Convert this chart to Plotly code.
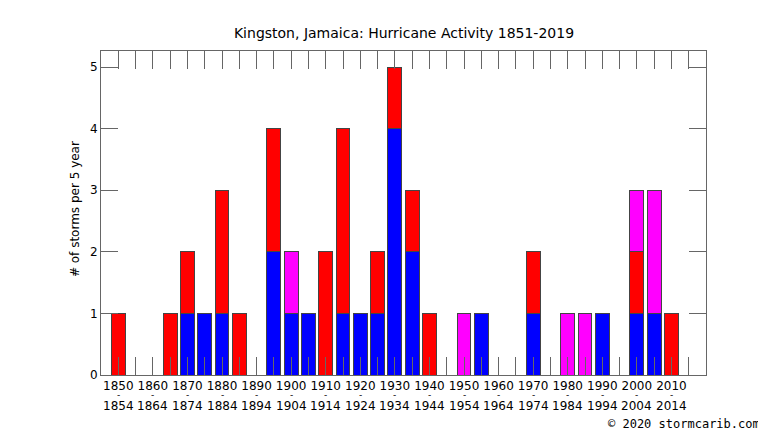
import plotly.graph_objects as go

# start year of each 5-year bin
years = [1850, 1855, 1860, 1865, 1870, 1875, 1880, 1885, 1890, 1895,
         1900, 1905, 1910, 1915, 1920, 1925, 1930, 1935, 1940, 1945,
         1950, 1955, 1960, 1965, 1970, 1975, 1980, 1985, 1990, 1995,
         2000, 2005, 2010, 2015]

# storm counts per bin, stacked blue -> red -> magenta
blue = [0, 0, 0, 0, 1, 1, 1, 0, 0, 2,
        1, 1, 0, 1, 1, 1, 4, 2, 0, 0,
        0, 1, 0, 0, 1, 0, 0, 0, 1, 0,
        1, 1, 0, 0]
red = [1, 0, 0, 1, 1, 0, 2, 1, 0, 2,
       0, 0, 2, 3, 0, 1, 1, 1, 1, 0,
       0, 0, 0, 0, 1, 0, 0, 0, 0, 0,
       1, 0, 1, 0]
magenta = [0, 0, 0, 0, 0, 0, 0, 0, 0, 0,
           1, 0, 0, 0, 0, 0, 0, 0, 0, 0,
           1, 0, 0, 0, 0, 0, 1, 1, 0, 0,
           1, 2, 0, 0]

# x labels every 10 years (top line on the axis, "-" and end year below)
labelled = [y for i, y in enumerate(years) if i % 2 == 0 and y < 2015]
toplabels = ["%d" % y if y in labelled else "" for y in years]

edge = "#444444"
axcol = "#666666"


def nz(vals):
    return [v if v else None for v in vals]


fig = go.Figure()
for name, vals, col in [("blue", blue, "#0000ff"),
                        ("red", red, "#ff0000"),
                        ("magenta", magenta, "#ff00ff")]:
    fig.add_trace(go.Bar(x=years, y=nz(vals), name=name, width=4,
                         marker=dict(color=col, line=dict(color=edge, width=1))))

# page body adds an 8px margin, so the figure is shifted by that much
fig.update_layout(
    width=758, height=423,
    barmode="stack",
    showlegend=False,
    plot_bgcolor="white",
    paper_bgcolor="white",
    margin=dict(l=93, r=60, t=43, b=56, autoexpand=False),
    font=dict(family="DejaVu Sans", size=12, color="black"),
    title=dict(text="Kingston, Jamaica: Hurricane Activity 1851-2019",
               x=396 / 758, xanchor="center", y=1 - 25 / 423, yanchor="middle",
               font=dict(size=14)),
)

fig.update_xaxes(range=[1845, 2020], tickvals=years, ticktext=toplabels,
                 ticks="inside", ticklen=18, tickcolor=axcol, tickwidth=1,
                 showline=True, linecolor=axcol, linewidth=1, mirror="allticks",
                 showgrid=False, zeroline=False, tickangle=0, automargin=False,
                 tickfont=dict(size=12))
fig.update_yaxes(range=[0, 5.26], tickvals=[0, 1, 2, 3, 4, 5],
                 ticks="inside", ticklen=17, tickcolor=axcol, tickwidth=1,
                 showline=True, linecolor=axcol, linewidth=1, mirror="allticks",
                 showgrid=False, zeroline=False, automargin=False)

for y in labelled:
    fig.add_annotation(text="-", x=y, xref="x", y=0, yref="paper",
                       yanchor="middle", yshift=-20, showarrow=False,
                       font=dict(size=9))
    fig.add_annotation(text="%d" % (y + 4), x=y, xref="x", y=0, yref="paper",
                       yanchor="middle", yshift=-31, showarrow=False,
                       font=dict(size=12))

fig.add_annotation(text="# of storms per 5 year", textangle=-90,
                   xref="paper", x=-0.043, xanchor="center",
                   yref="paper", y=0.512, yanchor="middle",
                   showarrow=False, font=dict(size=12))

fig.add_annotation(text="© 2020 stormcarib.com", xref="paper", yref="paper",
                   x=1.0926, y=-0.151, xanchor="right", yanchor="middle",
                   showarrow=False,
                   font=dict(family="DejaVu Sans Mono", size=12))

fig.write_html("out.html")
